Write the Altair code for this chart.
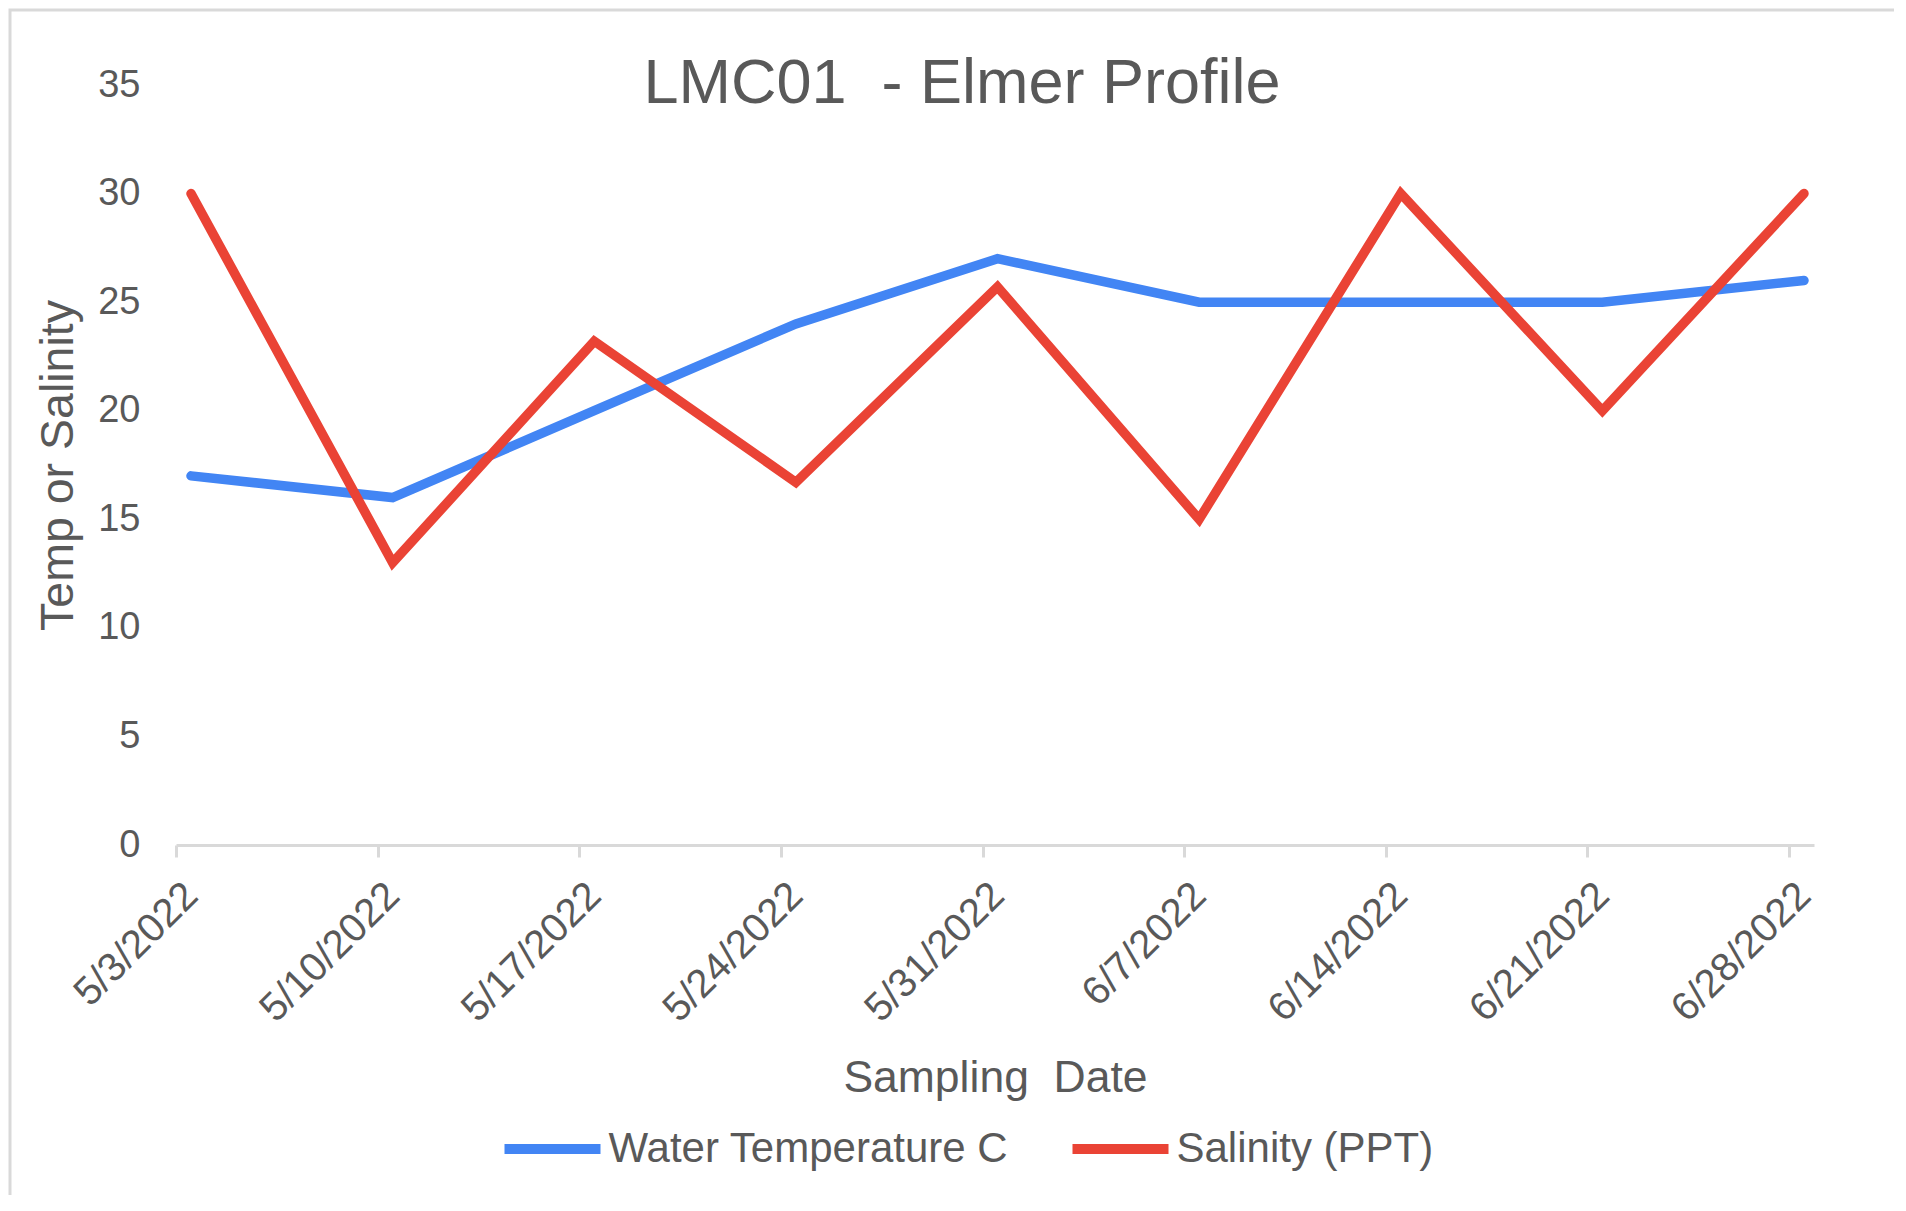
import altair as alt
import pandas as pd

dates = ["5/3/2022", "5/10/2022", "5/17/2022", "5/24/2022", "5/31/2022",
         "6/7/2022", "6/14/2022", "6/21/2022", "6/28/2022"]
water_temp = [17, 16, 20, 24, 27, 25, 25, 25, 26]
salinity = [30, 13, 23.2, 16.7, 25.7, 15, 30, 20, 30]
series_names = ["Water Temperature C", "Salinity (PPT)"]
series_colors = ["#4285F4", "#EA4335"]
y_ticks = [0, 5, 10, 15, 20, 25, 30, 35]

rows = []
for d, t in zip(dates, water_temp):
    rows.append({"date": d, "value": t, "series": series_names[0]})
for d, s in zip(dates, salinity):
    rows.append({"date": d, "value": s, "series": series_names[1]})
df = pd.DataFrame(rows)

FONT = "Liberation Sans"
GRAY = "#595959"
W, H = 1638, 760

x_enc = alt.X(
    "date:O",
    sort=dates,
    scale=alt.Scale(type="point", padding=0.062, align=0.6),
    axis=alt.Axis(
        title="Sampling\u00a0 Date",
        titleFontSize=44.5, titleColor=GRAY, titleFont=FONT, titleFontWeight="normal",
        titleY=246, titleBaseline="alphabetic",
        labelAngle=-45, labelAlign="right", labelBaseline="middle",
        labelPadding=32, labelFontSize=40, labelColor=GRAY, labelFont=FONT,
        labelOverlap=False, labelFlush=False,
        tickSize=12, tickOffset=-15, labelOffset=15,
        tickColor="#d9d9d9", tickWidth=3,
        domainColor="#d9d9d9", domainWidth=3,
        grid=False,
    ),
)
y_enc = alt.Y(
    "value:Q",
    scale=alt.Scale(domain=[0, 35], nice=False, zero=True),
    axis=alt.Axis(
        values=y_ticks,
        title="Temp or Salinity",
        titleFontSize=46.5, titleColor=GRAY, titleFont=FONT, titleFontWeight="normal",
        titleX=-104, titleY=H / 2, titleBaseline="alphabetic", titleAngle=270,
        labelFontSize=38, labelColor=GRAY, labelFont=FONT, labelPadding=36,
        domain=False, ticks=False, tickSize=0, grid=False,
    ),
)
color_enc = alt.Color(
    "series:N",
    scale=alt.Scale(domain=series_names, range=series_colors),
    legend=alt.Legend(
        title=None, orient="none", direction="horizontal",
        legendX=323.5, legendY=1011, padding=0,
        symbolType="stroke", symbolSize=9216, symbolStrokeWidth=10,
        labelFontSize=42, labelColor=GRAY, labelFont=FONT, labelOffset=3,
        labelLimit=0, columnPadding=44,
    ),
)

base = alt.Chart(df).mark_line(strokeWidth=9.5, strokeCap="round", strokeJoin="miter").encode(
    x=x_enc, y=y_enc, color=color_enc
)
temp_line = base.transform_filter(alt.datum.series == series_names[0])
sal_line = base.transform_filter(alt.datum.series == series_names[1])

border = alt.Chart(pd.DataFrame({"k": [0]})).mark_rect(
    filled=False, stroke="#d9d9d9", strokeWidth=3
).encode(
    x=alt.value(-166), x2=alt.value(W + 300),
    y=alt.value(-75), y2=alt.value(H + 500),
)

chart = alt.layer(border, temp_line, sal_line).properties(
    width=W, height=H,
    background="white",
    title=alt.TitleParams(
        text="LMC01\u00a0 - Elmer Profile",
        fontSize=63, font=FONT, color=GRAY, fontWeight="normal",
        anchor="middle", frame="group", baseline="alphabetic",
        offset=0, dx=-33, dy=157.5,
    ),
    autosize=alt.AutoSizeParams(type="none"),
    padding={"left": 168, "top": 77, "right": 80, "bottom": 350},
).configure_view(stroke="transparent", strokeWidth=0)

chart.save("out.html", embed_options={"renderer": "svg", "actions": False})
